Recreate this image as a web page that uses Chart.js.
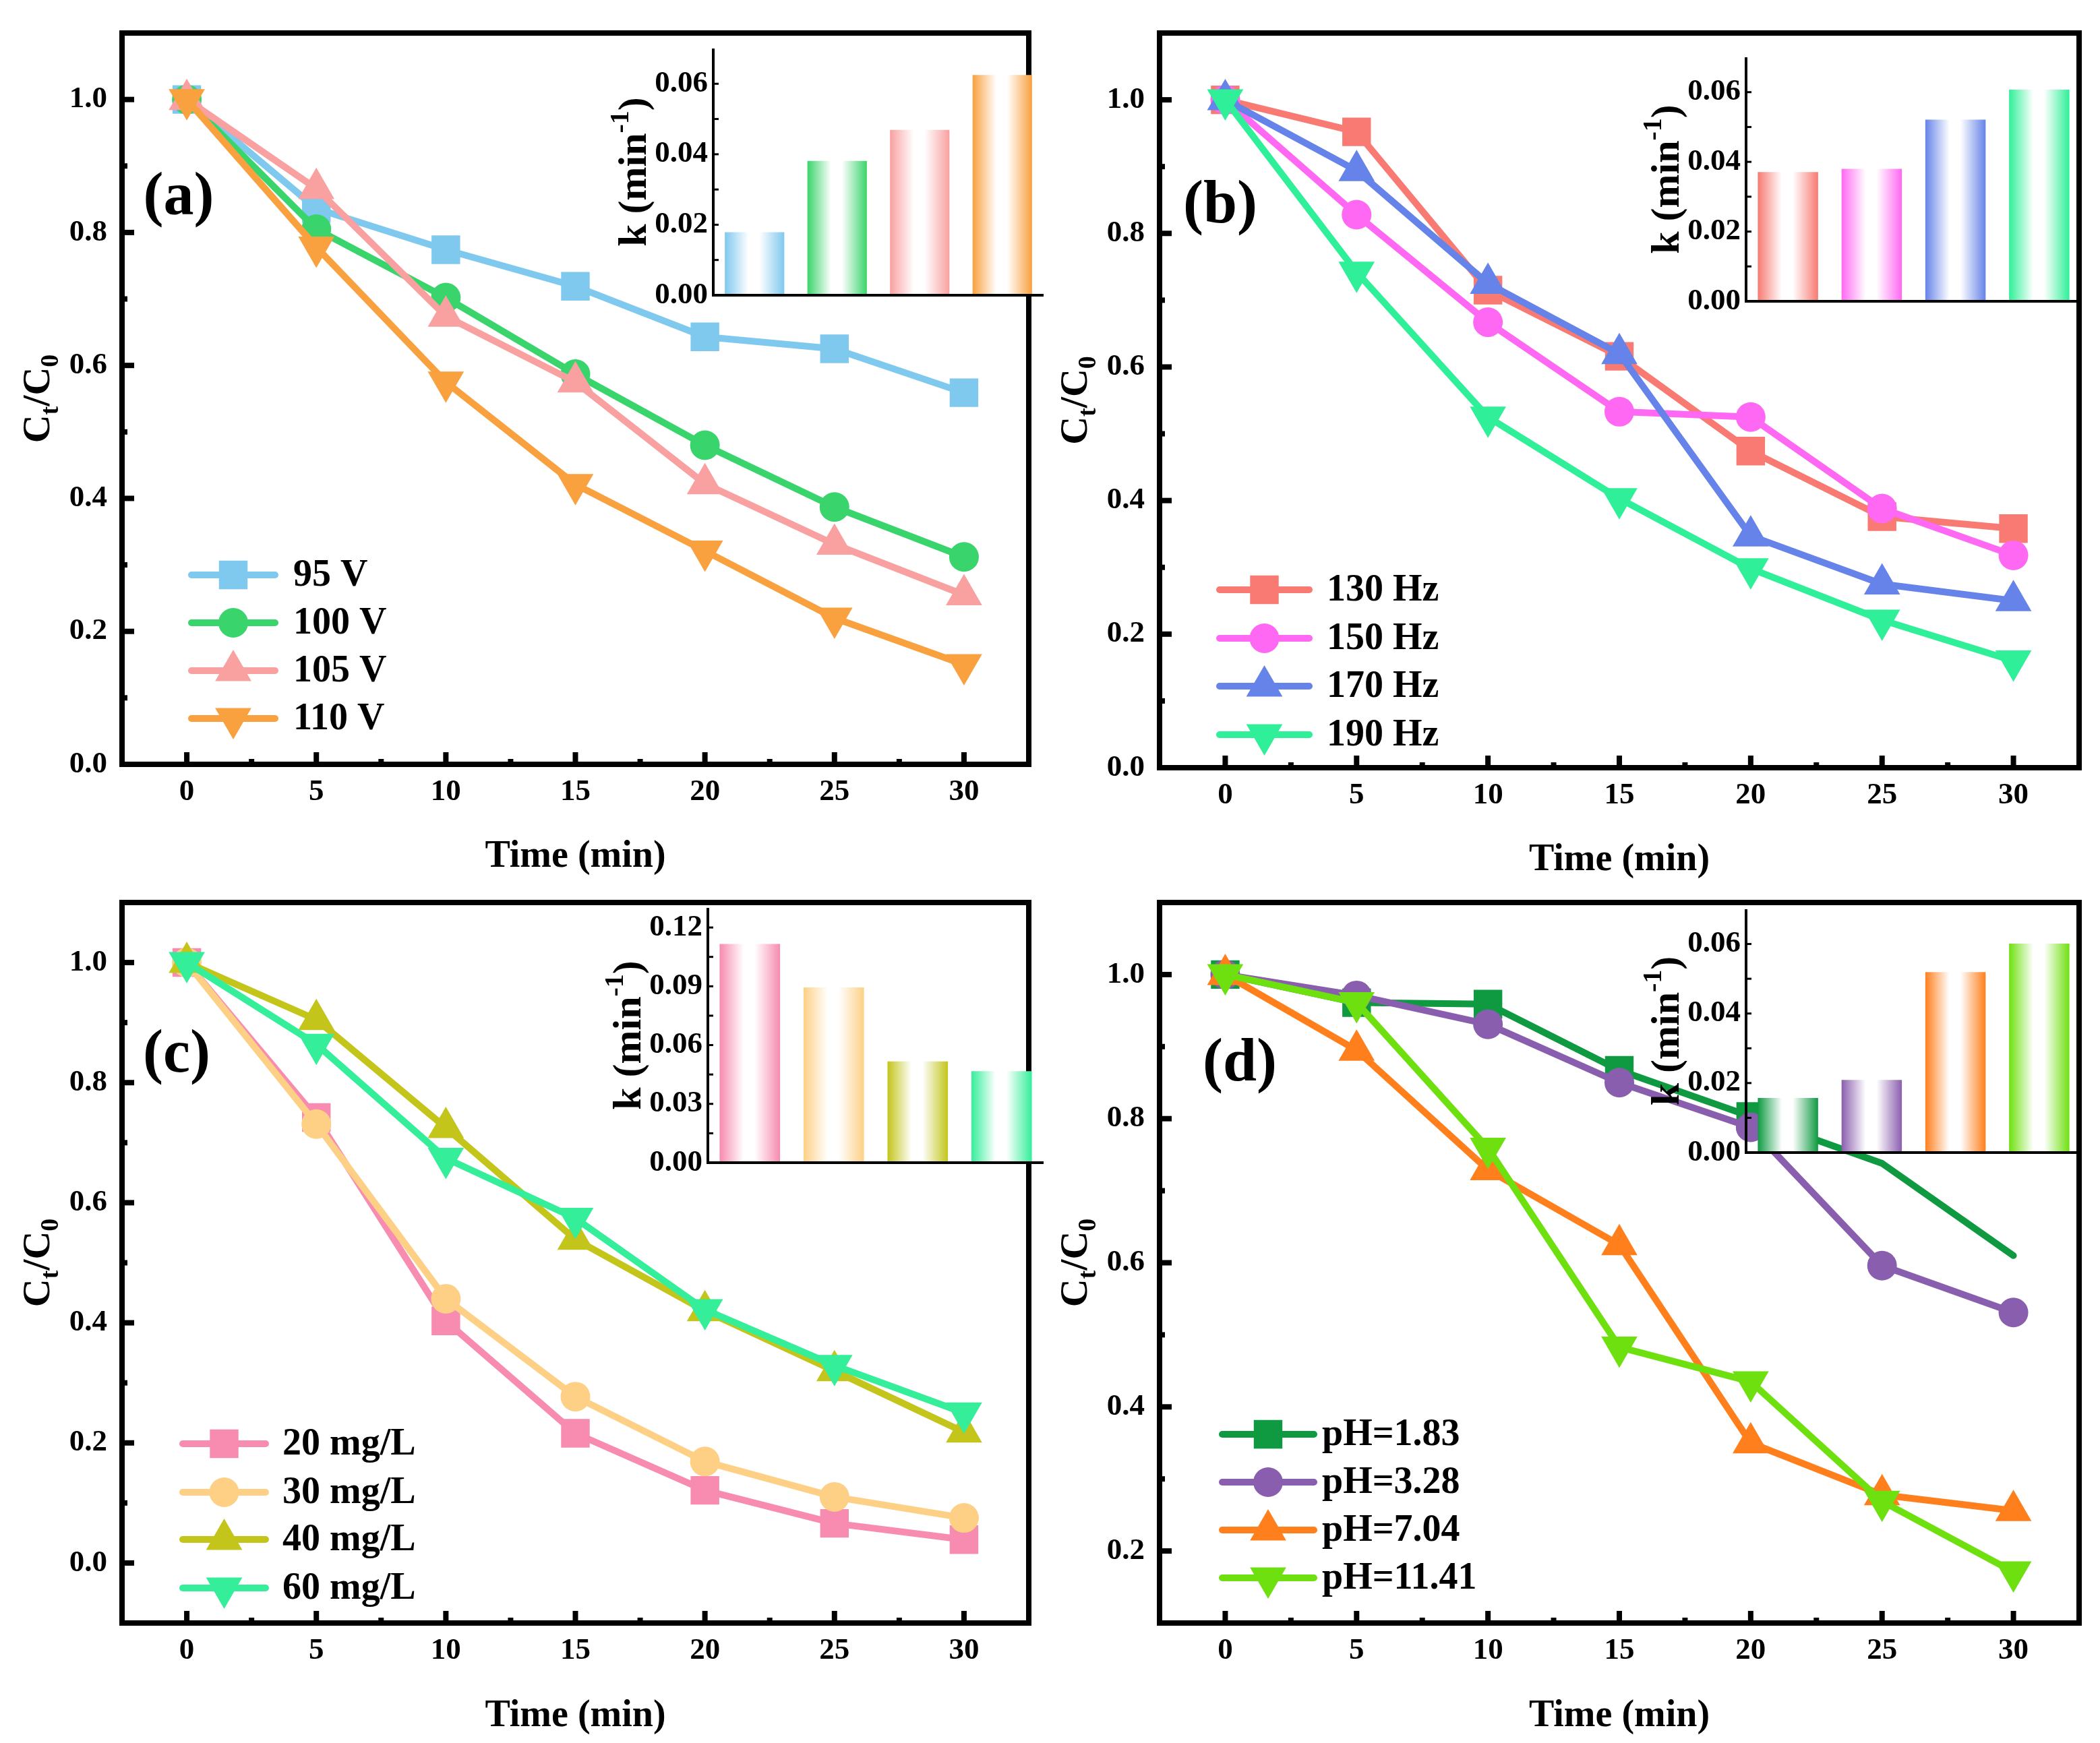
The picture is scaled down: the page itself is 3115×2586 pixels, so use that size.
<!DOCTYPE html>
<html>
<head>
<meta charset="utf-8">
<script src="https://cdn.jsdelivr.net/npm/chart.js@4.4.1/dist/chart.umd.min.js"></script>
<style>
html, body { margin: 0; padding: 0; background: #fff; }
#page { position: relative; width: 3115px; height: 2586px; overflow: hidden; background: #fff; }
canvas { position: absolute; }
</style>
</head>
<body>
<div id="page"></div>
<script>
// ---- data ----
const timeMin = [0, 5, 10, 15, 20, 25, 30];
const timeTicks = [0, 5, 10, 15, 20, 25, 30];
const timeMinor = [2.5, 7.5, 12.5, 17.5, 22.5, 27.5];

// (a) voltage
const voltLabels = ['95 V', '100 V', '105 V', '110 V'];
const ratio95V  = [1.0, 0.836, 0.774, 0.719, 0.643, 0.625, 0.559];
const ratio100V = [1.0, 0.805, 0.702, 0.587, 0.480, 0.387, 0.312];
const ratio105V = [1.0, 0.866, 0.674, 0.575, 0.422, 0.331, 0.255];
const ratio110V = [1.0, 0.778, 0.575, 0.421, 0.321, 0.220, 0.150];
const kVolt = [0.0179, 0.0381, 0.0469, 0.0625];

// (b) frequency
const freqLabels = ['130 Hz', '150 Hz', '170 Hz', '190 Hz'];
const ratio130Hz = [1.0, 0.952, 0.715, 0.616, 0.474, 0.376, 0.358];
const ratio150Hz = [1.0, 0.828, 0.667, 0.533, 0.525, 0.388, 0.318];
const ratio170Hz = [1.0, 0.894, 0.725, 0.620, 0.347, 0.275, 0.250];
const ratio190Hz = [1.0, 0.742, 0.525, 0.403, 0.298, 0.221, 0.160];
const kFreq = [0.0371, 0.0380, 0.0521, 0.0607];

// (c) initial concentration
const concLabels = ['20 mg/L', '30 mg/L', '40 mg/L', '60 mg/L'];
const ratio20mg = [1.0, 0.742, 0.403, 0.216, 0.121, 0.066, 0.039];
const ratio30mg = [1.0, 0.731, 0.440, 0.277, 0.169, 0.110, 0.075];
const ratio40mg = [1.0, 0.905, 0.725, 0.539, 0.420, 0.320, 0.218];
const ratio60mg = [1.0, 0.864, 0.674, 0.574, 0.422, 0.329, 0.250];
const kConc = [0.1116, 0.0894, 0.0517, 0.0467];

// (d) pH
const phLabels = ['pH=1.83', 'pH=3.28', 'pH=7.04', 'pH=11.41'];
const ratioPH183  = [1.0, 0.961, 0.959, 0.867, 0.803, 0.738, 0.610];
const ratioPH328  = [1.0, 0.971, 0.931, 0.850, 0.788, 0.596, 0.531];
const ratioPH704  = [1.0, 0.895, 0.729, 0.625, 0.350, 0.278, 0.256];
const ratioPH1141 = [1.0, 0.961, 0.759, 0.483, 0.435, 0.269, 0.171];
const kPH = [0.0157, 0.0209, 0.0519, 0.0601];

// axis ticks
const ratioTicks = [0.0, 0.2, 0.4, 0.6, 0.8, 1.0];
const ratioMinor = [0.1, 0.3, 0.5, 0.7, 0.9];
const ratioTicksD = [0.2, 0.4, 0.6, 0.8, 1.0];
const ratioMinorD = [0.3, 0.5, 0.7, 0.9];
const kTicks = [0.00, 0.02, 0.04, 0.06];
const kMinor = [0.01, 0.03, 0.05];
const kTicksC = [0.00, 0.03, 0.06, 0.09, 0.12];
const kMinorC = [0.015, 0.045, 0.075, 0.105];

// ---- drawing helpers ----
const SERIF = "'Liberation Serif', 'Times New Roman', serif";
const page = document.getElementById('page');

function addCanvas(x, y, w, h) {
    const c = document.createElement('canvas');
    c.width = w; c.height = h;
    c.style.left = x + 'px'; c.style.top = y + 'px';
    c.style.width = w + 'px'; c.style.height = h + 'px';
    page.appendChild(c);
    return c;
}

// parts: [text, size, baselineShift]
function drawRich(ctx, parts, cx, cy, rotate) {
    ctx.save();
    ctx.translate(cx, cy);
    if (rotate) ctx.rotate(-Math.PI / 2);
    ctx.fillStyle = '#000';
    ctx.textAlign = 'left';
    ctx.textBaseline = 'alphabetic';
    let total = 0;
    parts.forEach(p => { ctx.font = 'bold ' + p[1] + 'px ' + SERIF; total += ctx.measureText(p[0]).width; });
    let x = -total / 2;
    parts.forEach(p => {
        ctx.font = 'bold ' + p[1] + 'px ' + SERIF;
        ctx.fillText(p[0], x, p[2]);
        x += ctx.measureText(p[0]).width;
    });
    ctx.restore();
}

const MARKERS = {
    rect: { pointStyle: 'rect', rotation: 0, radius: 30 },
    circle: { pointStyle: 'circle', rotation: 0, radius: 22 },
    up: { pointStyle: 'triangle', rotation: 0, radius: 31 },
    down: { pointStyle: 'triangle', rotation: 180, radius: 31 }
};

function mainDecor(p, cx, cy) {
    return {
        id: 'mainDecor',
        afterDatasetsDraw(chart) {
            const { ctx, chartArea: a, scales: { x, y } } = chart;
            ctx.save();
            ctx.strokeStyle = '#000';
            ctx.lineWidth = 8;
            const tick = (px, py, dx, dy) => { ctx.beginPath(); ctx.moveTo(px, py); ctx.lineTo(px + dx, py + dy); ctx.stroke(); };
            timeTicks.forEach(v => tick(x.getPixelForValue(v), a.bottom, 0, -18));
            timeMinor.forEach(v => tick(x.getPixelForValue(v), a.bottom, 0, -8));
            p.yTicks.forEach(v => tick(a.left, y.getPixelForValue(v), 18, 0));
            p.yMinor.forEach(v => tick(a.left, y.getPixelForValue(v), 8, 0));
            ctx.lineWidth = 8;
            ctx.strokeRect(a.left, a.top, a.right - a.left, a.bottom - a.top);
            ctx.restore();
        },
        afterDraw(chart) {
            const { ctx, chartArea: a } = chart;
            ctx.save();
            // panel letter
            ctx.fillStyle = '#000';
            ctx.font = 'bold 90px ' + SERIF;
            ctx.textAlign = 'center';
            ctx.textBaseline = 'middle';
            ctx.fillText(p.letter, p.letterPos[0] - cx, p.letterPos[1] - cy);
            // y title  C_t / C_0
            drawRich(ctx, [['C', 58, 20], ['t', 38, 33], ['/C', 58, 20], ['0', 38, 33]],
                a.left - 128, (a.top + a.bottom) / 2, true);
            // legend
            const lg = p.legend;
            chart.data.datasets.forEach((ds, i) => {
                const ly = lg.ys[i] - cy;
                ctx.strokeStyle = ds.borderColor;
                ctx.lineWidth = 10;
                ctx.lineCap = 'round';
                ctx.beginPath();
                ctx.moveTo(lg.x0 - cx, ly);
                ctx.lineTo(lg.x1 - cx, ly);
                ctx.stroke();
                const m = MARKERS[p.series[i].marker];
                ctx.fillStyle = ds.borderColor;
                Chart.helpers.drawPoint(ctx, { pointStyle: m.pointStyle, rotation: m.rotation, radius: m.radius, borderWidth: 0 },
                    (lg.x0 + lg.x1) / 2 - cx, ly);
                ctx.fillStyle = '#000';
                ctx.font = 'bold 56px ' + SERIF;
                ctx.textAlign = 'left';
                ctx.textBaseline = 'middle';
                ctx.fillText(ds.label, lg.tx - cx, ly + 2);
            });
            ctx.restore();
        }
    };
}

function makeMain(p) {
    const [cx, cy, cw, ch] = p.canvas;
    const [l, t, r, b] = p.area;
    const YW = 150;
    const scaleBottom = p.titleY + 33.6;
    const XH = scaleBottom - b;
    const canvas = addCanvas(cx, cy, cw, ch);
    const tickFont = { family: SERIF, size: 45, weight: 'bold' };
    new Chart(canvas, {
        type: 'line',
        data: {
            datasets: p.series.map((s, i) => {
                const m = MARKERS[s.marker];
                return {
                    label: s.label,
                    data: timeMin.map((tm, j) => ({ x: tm, y: s.values[j] })),
                    borderColor: s.color,
                    backgroundColor: s.color,
                    borderWidth: 10,
                    borderCapStyle: 'round',
                    borderJoinStyle: 'round',
                    tension: 0,
                    pointStyle: m.pointStyle,
                    rotation: m.rotation,
                    pointRadius: s.hideFrom ? timeMin.map((tm, j) => j >= s.hideFrom ? 0 : m.radius) : m.radius,
                    pointBorderWidth: 0,
                    pointBackgroundColor: s.color,
                    order: p.series.length - i
                };
            })
        },
        options: {
            responsive: false,
            animation: false,
            devicePixelRatio: 1,
            events: [],
            layout: { padding: { left: l - cx - YW, top: t - cy, right: cx + cw - r, bottom: cy + ch - scaleBottom } },
            plugins: { legend: { display: false }, tooltip: { enabled: false } },
            scales: {
                x: {
                    type: 'linear', min: -2.5, max: 32.5,
                    afterBuildTicks: s => { s.ticks = timeTicks.map(v => ({ value: v })); },
                    afterFit: s => { s.height = XH; },
                    grid: { display: false, drawTicks: false },
                    border: { display: false },
                    ticks: { color: '#000', font: tickFont, padding: 14, maxRotation: 0, autoSkip: false, callback: v => String(v) },
                    title: { display: true, text: 'Time (min)', color: '#000', padding: 0,
                        font: { family: SERIF, size: 56, weight: 'bold' } }
                },
                y: {
                    type: 'linear', min: p.yMin, max: p.yMax,
                    afterBuildTicks: s => { s.ticks = p.yTicks.map(v => ({ value: v })); },
                    afterFit: s => { s.width = YW; },
                    grid: { display: false, drawTicks: false },
                    border: { display: false },
                    ticks: { color: '#000', font: tickFont, padding: 22, autoSkip: false, callback: v => v.toFixed(1) }
                }
            }
        },
        plugins: [mainDecor(p, cx, cy)]
    });
}

function barGradient(colors) {
    return ctx => {
        const chart = ctx.chart;
        const col = colors[ctx.dataIndex];
        const a = chart.chartArea;
        const xs = chart.scales.x;
        if (!a || !xs || ctx.dataIndex === undefined) return col;
        const c = xs.getPixelForValue(ctx.dataIndex);
        const half = (a.right - a.left) / chart.data.labels.length * 0.72 / 2;
        if (!isFinite(c) || !isFinite(half)) return col;
        const g = chart.ctx.createLinearGradient(c - half, 0, c + half, 0);
        g.addColorStop(0, col);
        g.addColorStop(0.4, '#ffffff');
        g.addColorStop(0.58, '#ffffff');
        g.addColorStop(1, col);
        return g;
    };
}

function insetDecor(p) {
    return {
        id: 'insetDecor',
        afterDatasetsDraw(chart) {
            const { ctx, chartArea: a, scales: { y } } = chart;
            ctx.save();
            ctx.strokeStyle = '#000';
            ctx.lineWidth = 3;
            const tick = py => { ctx.beginPath(); ctx.moveTo(a.left, py); ctx.lineTo(a.left + 8, py); ctx.stroke(); };
            p.kTicks.forEach(v => tick(y.getPixelForValue(v)));
            p.kMinor.forEach(v => tick(y.getPixelForValue(v)));
            ctx.lineWidth = 4;
            ctx.beginPath();
            ctx.moveTo(a.left, a.top);
            ctx.lineTo(a.left, a.bottom);
            ctx.lineTo(a.right, a.bottom);
            ctx.stroke();
            ctx.restore();
        },
        afterDraw(chart) {
            const a = chart.chartArea;
            drawRich(chart.ctx, [['k (min', 60, 20], ['-1', 40, -6], [')', 60, 20]],
                a.left - 120, (a.top + a.bottom) / 2, true);
        }
    };
}

function makeInset(p) {
    const [l, t, r, b] = p.area;
    const LEFT = 200, YW = 110, BOTTOM = 36;
    const canvas = addCanvas(l - LEFT, t, r - l + LEFT + 4, b - t + BOTTOM);
    new Chart(canvas, {
        type: 'bar',
        data: {
            labels: p.labels,
            datasets: [{
                data: p.values,
                backgroundColor: barGradient(p.colors),
                borderWidth: 0,
                categoryPercentage: 0.72,
                barPercentage: 1
            }]
        },
        options: {
            responsive: false,
            animation: false,
            devicePixelRatio: 1,
            events: [],
            layout: { padding: { left: LEFT - YW, top: 0, right: 4, bottom: BOTTOM } },
            plugins: { legend: { display: false }, tooltip: { enabled: false } },
            scales: {
                x: { display: false },
                y: {
                    min: 0, max: p.kMax,
                    afterBuildTicks: s => { s.ticks = p.kTicks.map(v => ({ value: v })); },
                    afterFit: s => { s.width = YW; },
                    grid: { display: false, drawTicks: false },
                    border: { display: false },
                    ticks: { color: '#000', font: { family: SERIF, size: 45, weight: 'bold' }, padding: 8,
                        autoSkip: false, callback: v => v.toFixed(2) }
                }
            }
        },
        plugins: [insetDecor(p)]
    });
}

// ---- panels ----
const colA = ['#7fc8ee', '#3ad46c', '#f9a0a0', '#f9a03f'];
const colB = ['#f87a72', '#ff68f2', '#6583e8', '#2ff098'];
const colC = ['#f78bb0', '#fdd086', '#c3c51b', '#34ee9a'];
const colD = ['#0f9a42', '#8a5eae', '#ff7f1c', '#6fe00f'];

makeMain({
    canvas: [0, 0, 1557, 1320], area: [181, 37, 1548, 1134], titleY: 1272,
    yMin: 0, yMax: 1.1, yTicks: ratioTicks, yMinor: ratioMinor,
    letter: '(a)', letterPos: [265, 295],
    legend: { x0: 284, x1: 408, tx: 435, ys: [853, 924, 995, 1066] },
    series: [
        { label: voltLabels[0], values: ratio95V, color: colA[0], marker: 'rect' },
        { label: voltLabels[1], values: ratio100V, color: colA[1], marker: 'circle' },
        { label: voltLabels[2], values: ratio105V, color: colA[2], marker: 'up' },
        { label: voltLabels[3], values: ratio110V, color: colA[3], marker: 'down' }
    ]
});
makeMain({
    canvas: [1557, 0, 1558, 1320], area: [1720, 46, 3087, 1139], titleY: 1277,
    yMin: 0, yMax: 1.1, yTicks: ratioTicks, yMinor: ratioMinor,
    letter: '(b)', letterPos: [1810, 307],
    legend: { x0: 1809, x1: 1942, tx: 1968, ys: [875, 947, 1018, 1090] },
    series: [
        { label: freqLabels[0], values: ratio130Hz, color: colB[0], marker: 'rect' },
        { label: freqLabels[1], values: ratio150Hz, color: colB[1], marker: 'circle' },
        { label: freqLabels[2], values: ratio170Hz, color: colB[2], marker: 'up' },
        { label: freqLabels[3], values: ratio190Hz, color: colB[3], marker: 'down' }
    ]
});
makeMain({
    canvas: [0, 1290, 1557, 1296], area: [181, 1312, 1548, 2408], titleY: 2547,
    yMin: -0.1, yMax: 1.1, yTicks: ratioTicks, yMinor: ratioMinor,
    letter: '(c)', letterPos: [262, 1567],
    legend: { x0: 271, x1: 394, tx: 419, ys: [2142, 2214, 2284, 2356] },
    series: [
        { label: concLabels[0], values: ratio20mg, color: colC[0], marker: 'rect' },
        { label: concLabels[1], values: ratio30mg, color: colC[1], marker: 'circle' },
        { label: concLabels[2], values: ratio40mg, color: colC[2], marker: 'up' },
        { label: concLabels[3], values: ratio60mg, color: colC[3], marker: 'down' }
    ]
});
makeMain({
    canvas: [1557, 1290, 1558, 1296], area: [1720, 1314, 3087, 2408], titleY: 2547,
    yMin: 0.1, yMax: 1.1, yTicks: ratioTicksD, yMinor: ratioMinorD,
    letter: '(d)', letterPos: [1839, 1580],
    legend: { x0: 1813, x1: 1949, tx: 1961, ys: [2128, 2199, 2270, 2341] },
    series: [
        { label: phLabels[0], values: ratioPH183, color: colD[0], marker: 'rect', hideFrom: 5 },
        { label: phLabels[1], values: ratioPH328, color: colD[1], marker: 'circle' },
        { label: phLabels[2], values: ratioPH704, color: colD[2], marker: 'up' },
        { label: phLabels[3], values: ratioPH1141, color: colD[3], marker: 'down' }
    ]
});

makeInset({ area: [1058, 37, 1548, 438], labels: voltLabels, values: kVolt, colors: colA, kMax: 0.07, kTicks: kTicks, kMinor: kMinor });
makeInset({ area: [2590, 50, 3087, 447], labels: freqLabels, values: kFreq, colors: colB, kMax: 0.07, kTicks: kTicks, kMinor: kMinor });
makeInset({ area: [1050, 1312, 1548, 1725], labels: concLabels, values: kConc, colors: colC, kMax: 0.13, kTicks: kTicksC, kMinor: kMinorC });
makeInset({ area: [2590, 1314, 3087, 1710], labels: phLabels, values: kPH, colors: colD, kMax: 0.07, kTicks: kTicks, kMinor: kMinor });
</script>
</body>
</html>
